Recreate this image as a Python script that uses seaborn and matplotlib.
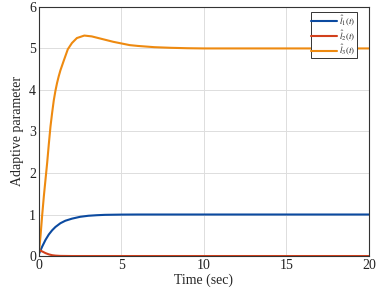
#! /usr/bin/env python3
# Adaptive parameter estimates vs time
import matplotlib
matplotlib.use('Agg')
import matplotlib.pyplot as plt
import pandas as pd
import seaborn as sns

# data
t1 = [0, 0.2, 0.4, 0.6, 0.8, 1.0, 1.3, 1.6, 2.0, 2.5, 3.0, 3.5, 4.0, 5.0, 6.0, 20.0]
l1 = [0.05, 0.23, 0.39, 0.52, 0.62, 0.7, 0.79, 0.85, 0.9, 0.945, 0.97, 0.983, 0.992, 0.998, 1.0, 1.0]

t2 = [0, 0.1, 0.2, 0.4, 0.6, 0.8, 1.0, 1.3, 2.0, 20.0]
l2 = [0.13, 0.13, 0.11, 0.07, 0.04, 0.02, 0.01, 0.003, 0.0, 0.0]

t3 = [0, 0.1, 0.2, 0.3, 0.4, 0.5, 0.6, 0.7, 0.8, 0.9, 1.0, 1.1, 1.2, 1.3, 1.5, 1.75,
      2.0, 2.3, 2.75, 3.2, 3.6, 4.0, 4.5, 5.0, 5.5, 6.0, 7.0, 8.0, 9.0, 10.0, 20.0]
l3 = [0.08, 0.5, 1.0, 1.45, 1.85, 2.25, 2.7, 3.12, 3.45, 3.75, 3.98, 4.17, 4.33, 4.47, 4.7, 4.98,
      5.13, 5.25, 5.31, 5.29, 5.25, 5.21, 5.16, 5.12, 5.08, 5.06, 5.03, 5.015, 5.005, 5.0, 5.0]

labels = [r'$\hat{l}_1(t)$', r'$\hat{l}_2(t)$', r'$\hat{l}_3(t)$']
colors = ['#0B4AA0', '#D2401C', '#EE8A10']

sns.set_style('whitegrid')
plt.rcParams['font.family'] = ['Liberation Serif', 'DejaVu Serif']
plt.rcParams['mathtext.fontset'] = 'stix'

fig = plt.figure(figsize=(3.78, 2.88), dpi=100)
ax = fig.add_axes([0.103, 0.111, 0.873, 0.865])

for t, l, lab, c in zip([t1, t2, t3], [l1, l2, l3], labels, colors):
    df = pd.DataFrame({'t': t, 'l': l})
    sns.lineplot(data=df, x='t', y='l', ax=ax, color=c, lw=1.5, label=lab)

ax.set_xlim(0, 20)
ax.set_ylim(0, 6)
ax.set_xticks([0, 5, 10, 15, 20])
ax.set_yticks(range(7))
ax.grid(True, color='#dddddd', lw=0.7)
for s in ax.spines.values():
    s.set_color('#333333')
    s.set_linewidth(0.8)
ax.tick_params(direction='in', length=3, labelsize=10, colors='#222222', pad=2)
ax.set_xlabel('Time (sec)', fontsize=10, labelpad=1)
ax.set_ylabel('Adaptive parameter', fontsize=10, labelpad=4)

leg = ax.legend(loc='upper right', bbox_to_anchor=(0.968, 0.985), fontsize=6.5,
                frameon=True, fancybox=False, framealpha=1, edgecolor='#333333',
                handlelength=2.8, borderpad=0.1, labelspacing=0.0, handletextpad=0.3,
                borderaxespad=0.2)
leg.get_frame().set_linewidth(0.7)

fig.savefig('out.png', dpi=100)
